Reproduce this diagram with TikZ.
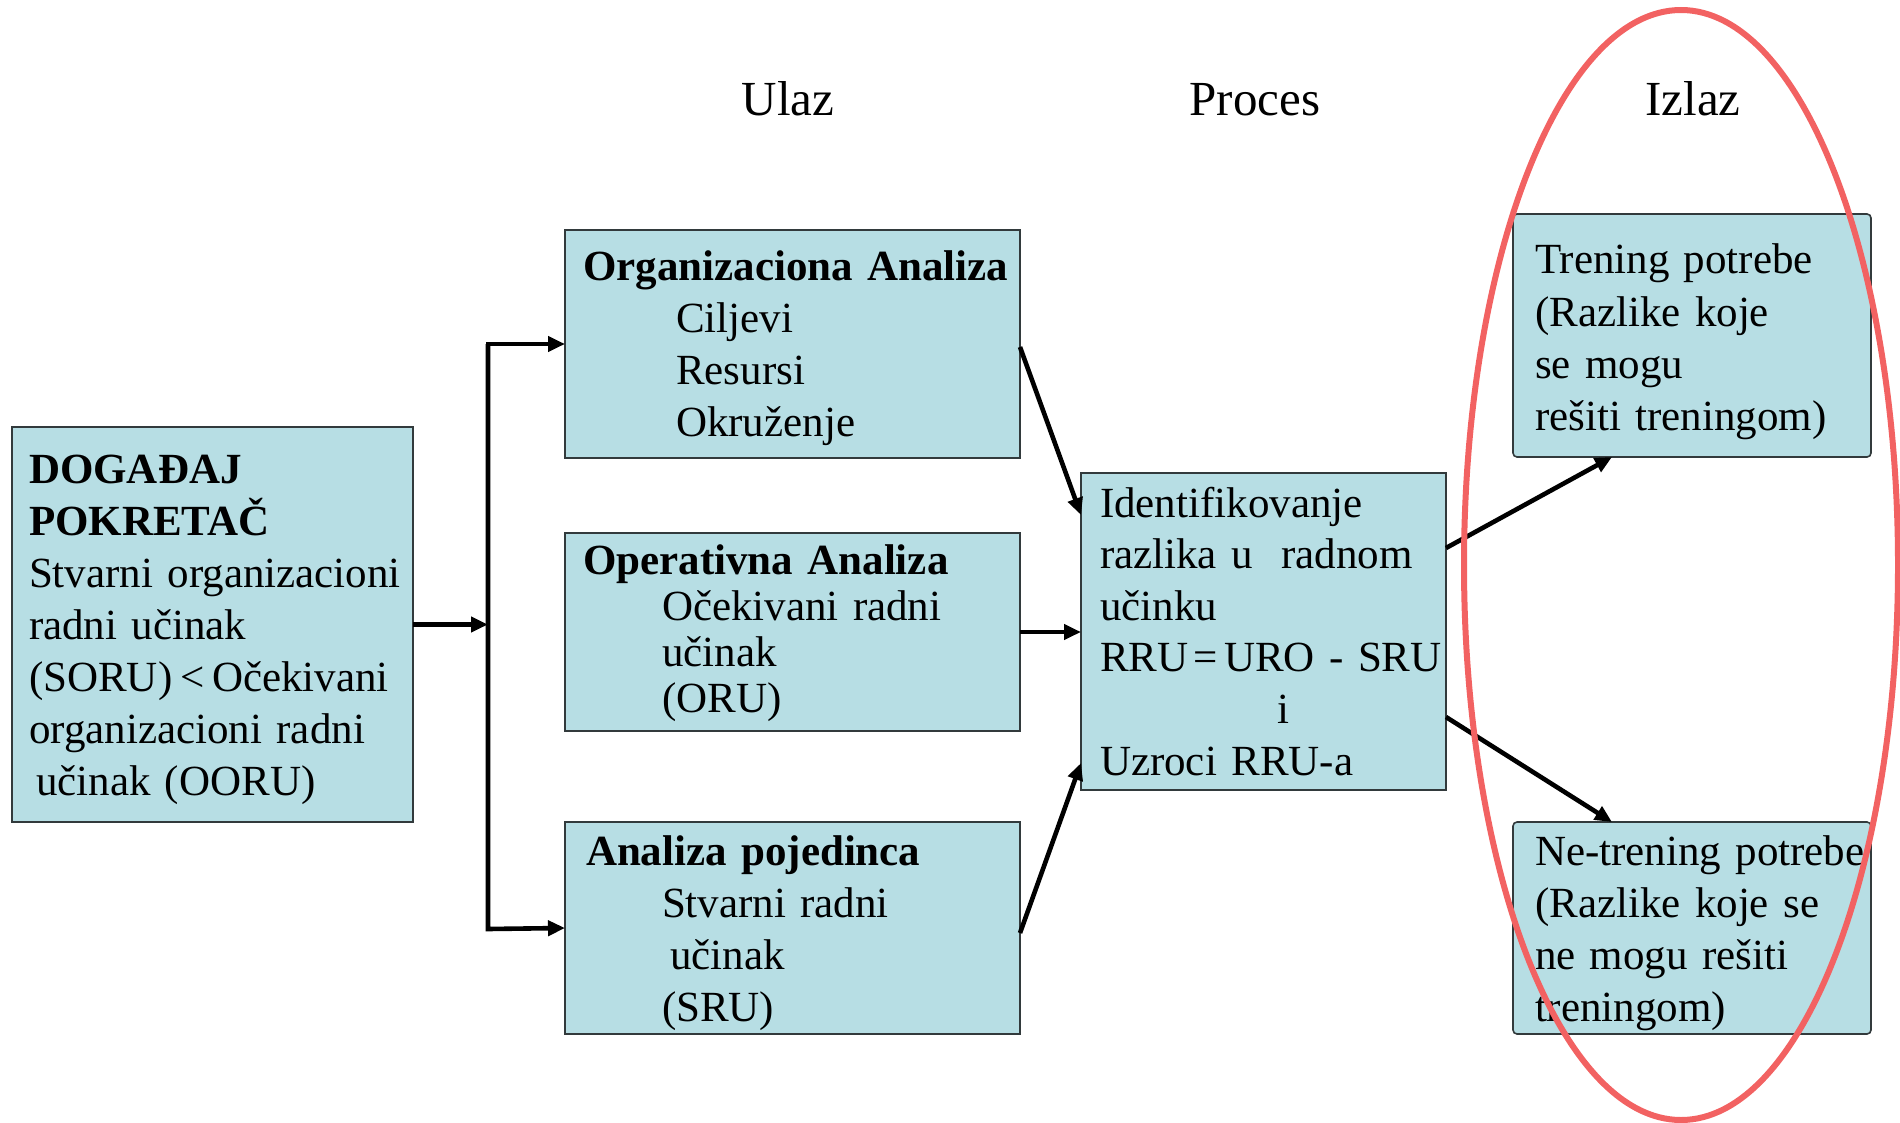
\documentclass[tikz,border=0pt]{standalone}
\usepackage{fontspec}
\setmainfont{Liberation Serif}[WordSpace=0.84]
\usetikzlibrary{arrows.meta,calc}
\definecolor{boxfill}{RGB}{183,222,228}
\definecolor{boxline}{RGB}{50,58,60}
\definecolor{ring}{RGB}{242,98,98}
\begin{document}
\begin{tikzpicture}[x=0.5pt,y=-0.5pt,
  box/.style={draw=boxline, line width=0.8pt, fill=boxfill, anchor=north west, inner sep=0pt, outer sep=0pt},
  rbox/.style={box, rounded corners=2pt},
  txt/.style={inner sep=0pt, outer sep=0pt, align=left, text width=240pt, anchor=base west,
              font=\fontsize{21.5pt}{26pt}\selectfont},
  title/.style={inner sep=0pt, anchor=base, font=\fontsize{24.5pt}{29pt}\selectfont},
  arr/.style={line width=2.3pt, draw=black, line join=miter, -{Triangle[length=8.5pt,width=7.5pt]}},
  ringline/.style={draw=ring, line width=3pt}]
\useasboundingbox (0,0) rectangle (1900,1123);

% titles
\node[title] (tulaz) at (788,116) {Ulaz};
\node[title] (tproc) at (1255,116) {Proces};
\node[title] (tizlaz) at (1693,116) {Izlaz};

% boxes
\node[box, minimum width=200.5pt, minimum height=197.5pt] (trig) at (12,427) {};
\node[box, minimum width=227.5pt, minimum height=114pt] (org) at (565,230) {};
\node[box, minimum width=227.5pt, minimum height=99pt] (op) at (565,533) {};
\node[box, minimum width=227.5pt, minimum height=106pt] (ind) at (565,822) {};
\node[box, minimum width=182.5pt, minimum height=158.5pt] (proc) at (1081,473) {};
\node[rbox, minimum width=179pt, minimum height=121.5pt] (tr) at (1513,214) {};
\node[rbox, minimum width=179pt, minimum height=106pt] (ne) at (1513,822) {};

% texts
\node[txt] (trigtxt) at (29,483) {\textbf{DOGAĐAJ}\\ \textbf{POKRETAČ}\\ Stvarni organizacioni\\ radni učinak\\ (SORU)\hspace{0.18em}<\hspace{0.18em}Očekivani\\ organizacioni radni\\ \hspace*{3.5pt}učinak (OORU)};
\node[txt] (orgtxt) at (583,280) {\textbf{Organizaciona Analiza}\\ \hspace*{46.5pt}Ciljevi\\ \hspace*{46.5pt}Resursi\\ \hspace*{46.5pt}Okruženje};
\node[txt, font=\fontsize{21.5pt}{23pt}\selectfont] (optxt) at (583,574) {\textbf{Operativna Analiza}\\ \hspace*{39.5pt}Očekivani radni\\ \hspace*{39.5pt}učinak\\ \hspace*{39.5pt}(ORU)};
\node[txt] (indtxt) at (586,865) {\textbf{Analiza pojedinca}\\ \hspace*{38pt}Stvarni radni\\ \hspace*{42pt}učinak\\ \hspace*{38pt}(SRU)};
\node[txt, font=\fontsize{21.5pt}{25.8pt}\selectfont] (proctxt) at (1100,517) {Identifikovanje\\ razlika u\ \ radnom\\ učinku\\ RRU\hspace{0.12em}=\hspace{0.15em}URO - SRU\\ \hspace*{88.5pt}i\\ Uzroci RRU-a};
\node[txt] (trtxt) at (1535,274) {Trening potrebe\\ (Razlike koje\\ se mogu\\ rešiti treningom)};
\node[txt] (netxt) at (1535,865) {Ne-trening potrebe\\ (Razlike koje se\\ ne mogu rešiti\\ treningom)};

% connectors
\coordinate (bt) at (488,344);
\coordinate (bb) at (488,929);
\draw[arr] (trig.east) -- (trig.east -| bt);
\draw[arr] (bb) -- (bt) -- (org.west);
\draw[arr] (bt) -- (bb) -- (ind.west);
\draw[arr] ([yshift=-1.5pt]org.east) -- ($(proc.north west)+(0,42)$);
\draw[arr] (op.east) -- (op.east -| proc.west);
\draw[arr] ([yshift=-2.5pt]ind.east) -- ($(proc.south west)+(0,-27)$);
\draw[arr] ($(proc.north east)+(0,75)$) -- ($(tr.south west)+(99,0)$);
\draw[arr] ($(proc.south east)+(0,-73)$) -- ($(ne.north west)+(99,0)$);

% red ellipse
\draw[ringline] (1681,565) ellipse [x radius=108.5pt, y radius=277.5pt];
\end{tikzpicture}
\end{document}
